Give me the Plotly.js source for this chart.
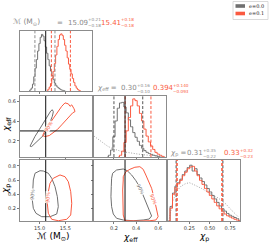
<!DOCTYPE html>
<html><head><meta charset="utf-8">
<script src="https://cdn.plot.ly/plotly-3.0.1.min.js"></script>
<style>html,body{margin:0;padding:0;background:#fff;}#plot{width:269px;height:244px;}</style>
</head><body><div id="plot"></div>
<script>
// ---------------- DATA ----------------
const seriesNames = ['e=0.0', 'e=0.1'];
// chirp mass histograms (normalised)
const mGrayX = [14.800,14.825,14.850,14.875,14.900,14.925,14.950,14.975,15.000,15.025,15.050,15.075,15.100,15.125,15.150,15.175,15.200,15.225,15.250,15.275,15.300,15.325,15.350,15.375,15.400,15.425,15.450,15.475,15.500];
const mGrayY = [0,0.02,0.05,0.12,0.25,0.40,0.55,0.70,0.83,0.94,0.99,0.96,0.88,0.77,0.66,0.55,0.44,0.35,0.27,0.20,0.14,0.10,0.07,0.05,0.035,0.02,0.012,0.006,0];
const mRedX = [15.150,15.175,15.200,15.225,15.250,15.275,15.300,15.325,15.350,15.375,15.400,15.425,15.450,15.475,15.500,15.525,15.550,15.575,15.600,15.625,15.650,15.675,15.700,15.725,15.750,15.775,15.800];
const mRedY = [0,0.03,0.07,0.13,0.22,0.34,0.48,0.63,0.78,0.90,0.98,1.0,0.97,0.90,0.80,0.70,0.58,0.47,0.38,0.30,0.22,0.15,0.09,0.05,0.025,0.01,0];
// chi_eff histograms
const ceGrayX = [0.14,0.16,0.18,0.20,0.22,0.24,0.26,0.28,0.30,0.32,0.34,0.36,0.38,0.40,0.42,0.44,0.46,0.48,0.50,0.52,0.54,0.56,0.58,0.60,0.62];
const ceGrayY = [0,0.03,0.12,0.35,0.62,0.84,0.93,0.94,0.86,0.76,0.64,0.52,0.42,0.34,0.27,0.20,0.15,0.11,0.08,0.06,0.045,0.03,0.02,0.01,0];
const ceRedX = [0.24,0.26,0.28,0.30,0.32,0.34,0.36,0.38,0.40,0.42,0.44,0.46,0.48,0.50,0.52,0.54,0.56,0.58,0.60,0.62,0.64,0.66];
const ceRedY = [0,0.03,0.10,0.25,0.45,0.68,0.88,1.0,0.97,0.88,0.75,0.62,0.48,0.36,0.26,0.19,0.13,0.08,0.05,0.03,0.01,0];
const cePriorX = [0.02,0.06,0.10,0.14,0.18,0.22,0.26,0.30,0.34,0.38,0.42,0.46,0.50,0.54,0.58,0.62,0.66];
const cePriorY = [0.36,0.30,0.24,0.19,0.15,0.12,0.10,0.085,0.07,0.06,0.05,0.04,0.03,0.025,0.02,0.015,0.01];
// chi_p histograms
const cpX = [0.00,0.03,0.06,0.09,0.12,0.15,0.18,0.21,0.24,0.27,0.30,0.33,0.36,0.39,0.42,0.45,0.48,0.51,0.54,0.57,0.60,0.63,0.66,0.69,0.72,0.75,0.78,0.81,0.84,0.87];
const cpGrayY = [0,0.25,0.48,0.60,0.66,0.72,0.80,0.86,0.92,0.96,0.86,0.90,0.80,0.74,0.68,0.62,0.56,0.50,0.44,0.38,0.32,0.26,0.21,0.17,0.13,0.10,0.08,0.06,0.04,0];
const cpRedY = [0,0.22,0.46,0.58,0.64,0.70,0.78,0.84,0.90,0.93,0.94,0.86,0.78,0.70,0.63,0.56,0.50,0.44,0.38,0.32,0.26,0.21,0.16,0.12,0.09,0.07,0.05,0.03,0.015,0];
const cpPriorX = [0,0.05,0.10,0.15,0.20,0.25,0.30,0.35,0.40,0.45,0.50,0.55,0.60,0.65,0.70,0.75,0.80,0.85];
const cpPriorY = [0,0.35,0.52,0.60,0.64,0.66,0.63,0.60,0.56,0.52,0.47,0.43,0.40,0.35,0.29,0.21,0.14,0.07];
// 90% contours
const c21GrayM  = [14.815,14.848,14.912,14.995,15.073,15.151,15.217,15.248,15.268,15.248,15.204,15.171,15.139,15.073,14.995,14.912,14.848,14.815];
const c21GrayCe = [0.145,0.185,0.245,0.313,0.381,0.448,0.502,0.515,0.495,0.448,0.394,0.347,0.303,0.253,0.212,0.169,0.142,0.145];
const c21RedM   = [15.061,15.106,15.171,15.237,15.301,15.365,15.431,15.495,15.560,15.593,15.626,15.671,15.690,15.645,15.560,15.495,15.431,15.346,15.268,15.190,15.106,15.061];
const c21RedCe  = [0.253,0.304,0.355,0.405,0.456,0.507,0.550,0.585,0.575,0.550,0.565,0.525,0.497,0.484,0.439,0.405,0.362,0.314,0.280,0.253,0.243,0.253];
const c31GrayM  = [15.009,14.912,14.879,14.867,14.859,14.879,14.931,15.042,15.204,15.334,15.365,15.346,15.301,15.237,15.171,15.073,15.009];
const c31GrayCp = [0.733,0.697,0.602,0.460,0.318,0.200,0.129,0.081,0.081,0.119,0.223,0.365,0.507,0.626,0.697,0.729,0.733];
const c31RedM   = [15.398,15.268,15.204,15.171,15.151,15.171,15.237,15.365,15.528,15.606,15.626,15.606,15.560,15.495,15.398];
const c31RedCp  = [0.673,0.626,0.555,0.436,0.271,0.129,0.044,0.024,0.044,0.105,0.271,0.436,0.577,0.648,0.673];
const c32GrayCe = [0.188,0.224,0.284,0.320,0.360,0.398,0.434,0.464,0.495,0.525,0.540,0.518,0.464,0.374,0.284,0.224,0.194,0.179,0.173,0.176,0.179,0.188];
const c32GrayCp = [0.697,0.743,0.758,0.733,0.672,0.592,0.498,0.389,0.271,0.166,0.091,0.048,0.034,0.024,0.034,0.058,0.119,0.223,0.365,0.507,0.626,0.697];
const c32RedCe  = [0.284,0.308,0.344,0.389,0.434,0.464,0.488,0.518,0.540,0.560,0.579,0.594,0.599,0.579,0.525,0.434,0.344,0.299,0.284,0.279,0.279,0.284,0.284];
const c32RedCp  = [0.648,0.719,0.753,0.782,0.790,0.753,0.672,0.577,0.484,0.365,0.247,0.152,0.081,0.034,0.024,0.020,0.020,0.024,0.105,0.271,0.460,0.602,0.648];
// injected values and quantiles
const injM = 15.12, injCe = 0.30;
const qM = {gray:[14.91,15.30], red:[15.23,15.60]};
const qCe = {gray:[0.20,0.46], red:[0.301,0.534]};
const qCp = {gray:[0.09,0.66], red:[0.10,0.65]};
// title values
const titleM  = {gray:['15.09','+0.21','−0.18'], red:['15.41','+0.18','−0.18']};
const titleCe = {gray:['0.30','+0.16','−0.10'], red:['0.394','+0.140','−0.093']};
const titleCp = {gray:['0.31','+0.35','−0.22'], red:['0.33','+0.32','−0.23']};
const ticksM = [15.0, 15.5], ticksMText = ['15.0','15.5'];
const ticksCe = [0.2, 0.4, 0.6], ticksCeText = ['0.2','0.4','0.6'];
const ticksCpX = [0.25, 0.50, 0.75], ticksCpXText = ['0.25','0.50','0.75'];
const ticksCpY = [0.2, 0.4, 0.6, 0.8], ticksCpYText = ['0.2','0.4','0.6','0.8'];

// ---------------- LAYOUT ----------------
const W = 269, H = 244;
const GRAY = '#707070', RED = '#fa5a40', TGRAY = '#8a8a8a';
const FONT = 'DejaVu Sans, sans-serif';
const X = p => p / W, Y = p => 1 - p / H;
const cols = [[20,92],[94,166],[168,240]];
const rows = [[31,91],[96,157],[160,221]];
const dx = c => [X(cols[c][0]), X(cols[c][1])];
const dy = r => [Y(rows[r][1]), Y(rows[r][0])];
const rM = [14.62, 16.02], rCe = [0.02, 0.67], rCeY = [0.035, 0.655], rCpX = [-0.01, 0.87], rCpY = [0.02, 0.885], rH = [0, 1.05];

function ax(domain, range, anchor, tv, tt, labels, ticks) {
  return {domain, range, anchor, showline:true, mirror:true, linecolor:'#8c8c8c', linewidth:1,
    showgrid:false, zeroline:false, ticks: ticks ? 'outside' : '', ticklen:2, tickwidth:0.7, tickcolor:'#444',
    tickvals: tv, ticktext: tt, showticklabels: labels, tickfont:{size:5, color:'#333', family:FONT}, fixedrange:true};
}
const layout = {
  width:W, height:H, margin:{l:0,r:0,t:0,b:0}, paper_bgcolor:'#fff', plot_bgcolor:'#fff', showlegend:false,
  xaxis:  ax(dx(0), rM,  'y',  ticksM, ticksMText, false, true),
  yaxis:  ax(dy(0), rH,  'x',  [], [], false, false),
  xaxis2: ax(dx(0), rM,  'y2', ticksM, ticksMText, false, true),
  yaxis2: ax(dy(1), rCeY,'x2', ticksCe, ticksCeText, true, true),
  xaxis3: ax(dx(1), rCe, 'y3', ticksCe, ticksCeText, false, true),
  yaxis3: ax(dy(1), rH,  'x3', [], [], false, false),
  xaxis4: ax(dx(0), rM,  'y4', ticksM, ticksMText, true, true),
  yaxis4: ax(dy(2), rCpY,'x4', ticksCpY, ticksCpYText, true, true),
  xaxis5: ax(dx(1), rCe, 'y5', ticksCe, ticksCeText, true, true),
  yaxis5: ax(dy(2), rCpY,'x5', ticksCpY, ticksCpYText, false, true),
  xaxis6: ax(dx(2), rCpX,'y6', ticksCpX, ticksCpXText, true, true),
  yaxis6: ax(dy(2), rH,  'x6', [], [], false, false),
  shapes: [], annotations: []
};

// ---------------- TRACES ----------------
const traces = [];
function hist(x, y, xa, ya, color) {
  traces.push({type:'scatter', mode:'lines', x, y, xaxis:xa, yaxis:ya, line:{color, width:1, shape:'hvh'}, hoverinfo:'skip'});
}
function dotted(x, y, xa, ya) {
  traces.push({type:'scatter', mode:'lines', x, y, xaxis:xa, yaxis:ya, line:{color:'#9a9a9a', width:0.9, dash:'1px,1.6px'}, hoverinfo:'skip'});
}
function contour(x, y, xa, ya, color) {
  traces.push({type:'scatter', mode:'lines', x, y, xaxis:xa, yaxis:ya, line:{color, width:1}, hoverinfo:'skip'});
}
hist(mGrayX, mGrayY, 'x', 'y', GRAY);
hist(mRedX, mRedY, 'x', 'y', RED);
dotted(cePriorX, cePriorY, 'x3', 'y3');
hist(ceGrayX, ceGrayY, 'x3', 'y3', GRAY);
hist(ceRedX, ceRedY, 'x3', 'y3', RED);
dotted(cpPriorX, cpPriorY, 'x6', 'y6');
hist(cpX, cpGrayY, 'x6', 'y6', GRAY);
hist(cpX, cpRedY, 'x6', 'y6', RED);
contour(c21GrayM, c21GrayCe, 'x2', 'y2', GRAY);
contour(c21RedM, c21RedCe, 'x2', 'y2', RED);
contour(c31GrayM, c31GrayCp, 'x4', 'y4', GRAY);
contour(c31RedM, c31RedCp, 'x4', 'y4', RED);
contour(c32GrayCe, c32GrayCp, 'x5', 'y5', GRAY);
contour(c32RedCe, c32RedCp, 'x5', 'y5', RED);

// ---------------- SHAPES ----------------
function vline(xref, yref, x, color, dash, width) {
  layout.shapes.push({type:'line', xref, yref: yref + ' domain', x0:x, x1:x, y0:0, y1:1, line:{color, width, dash}});
}
function hline(xref, yref, y, color) {
  layout.shapes.push({type:'line', xref: xref + ' domain', yref, x0:0, x1:1, y0:y, y1:y, line:{color, width:1}});
}
const DASH = '3px,1.8px';
qM.gray.forEach(v => vline('x', 'y', v, '#8f8f8f', DASH, 1));
qM.red.forEach(v => vline('x', 'y', v, RED, DASH, 1));
qCe.gray.forEach(v => vline('x3', 'y3', v, '#555', DASH, 1));
qCe.red.forEach(v => vline('x3', 'y3', v, RED, DASH, 1));
qCp.gray.forEach(v => vline('x6', 'y6', v, '#8f8f8f', DASH, 1.6));
qCp.red.forEach(v => vline('x6', 'y6', v, RED, '3px,2px', 1.6));
vline('x', 'y', injM, '#111', '', 1);
vline('x2', 'y2', injM, '#111', '', 1);
hline('x2', 'y2', injCe, '#111');
vline('x4', 'y4', injM, '#111', '', 1);
vline('x3', 'y3', injCe, '#111', '', 1);
vline('x5', 'y5', injCe, '#111', '', 1);

// ---------------- TEXT ----------------
function ann(text, xpx, ypx, opts) {
  layout.annotations.push(Object.assign({text, xref:'paper', yref:'paper', x:X(xpx), y:Y(ypx),
    xanchor:'left', yanchor:'middle', showarrow:false, borderpad:0,
    font:{family:FONT, size:7, color:TGRAY}}, opts || {}));
}
const SS = 4.2;
function valueTitle(vals, xv, xs, ymain, color) {
  ann(vals[0], xv, ymain, {font:{family:FONT, size:7, color}});
  ann(vals[1], xs, ymain - 2.7, {font:{family:FONT, size:SS, color}});
  ann(vals[2], xs, ymain + 2.9, {font:{family:FONT, size:SS, color}});
}
// row titles
ann('<i>ℳ</i> (M<sub>⊙</sub>)', 12, 22.5, {font:{family:FONT, size:7.5, color:TGRAY}});
ann('=', 60, 22.7, {xanchor:'center'});
valueTitle(titleM.gray, 67, 87, 22.7, TGRAY);
valueTitle(titleM.red, 100, 120, 22.7, RED);
ann('<i>χ</i><sub>eff</sub> =', 96, 88);
valueTitle(titleCe.gray, 120, 136, 88.3, TGRAY);
valueTitle(titleCe.red, 152, 172, 88.3, RED);
ann('<i>χ</i><sub>p</sub> =', 169, 153);
valueTitle(titleCp.gray, 186, 201.5, 153.3, TGRAY);
valueTitle(titleCp.red, 223, 238.5, 153.3, RED);
// axis labels
const LF = {family:FONT, size:9, color:'#000'};
ann('<i>ℳ</i> (M<sub>⊙</sub>)', 53, 236.5, {xanchor:'center', font:LF});
ann('<i>χ</i><sub>eff</sub>', 130, 237, {xanchor:'center', font:LF});
ann('<i>χ</i><sub>p</sub>', 204, 237, {xanchor:'center', font:LF});
ann('<i>χ</i><sub>eff</sub>', 7, 125, {xanchor:'center', textangle:-90, font:LF});
ann('<i>χ</i><sub>p</sub>', 6, 189, {xanchor:'center', textangle:-90, font:LF});
// contour labels
function clab(xref, yref, x, y, color, angle) {
  layout.annotations.push({text:'90%', xref, yref, x, y, showarrow:false, textangle:angle, borderpad:0,
    bgcolor:'rgba(255,255,255,0.9)', font:{family:FONT, size:4.8, color}});
}
clab('x2', 'y2', 15.19, 0.34, RED, -58);
clab('x4', 'y4', 14.875, 0.39, GRAY, -85);
clab('x4', 'y4', 15.16, 0.36, RED, -85);
clab('x5', 'y5', 0.44, 0.47, GRAY, 65);
clab('x5', 'y5', 0.556, 0.33, RED, 68);
// legend (drawn from seriesNames)
layout.shapes.push({type:'rect', xref:'paper', yref:'paper', x0:X(233), x1:X(268), y0:Y(19.5), y1:Y(1.5), line:{color:'#d0d0d0', width:0.8}, fillcolor:'#fff'});
[GRAY, RED].forEach((c, i) => {
  const yc = 6 + i * 7.5;
  layout.shapes.push({type:'rect', xref:'paper', yref:'paper', x0:X(235.5), x1:X(245), y0:Y(yc + 1.8), y1:Y(yc - 1.8), line:{width:0}, fillcolor:c});
  ann(seriesNames[i], 248, yc, {font:{family:'DejaVu Serif, serif', size:5, color:'#222'}});
});

Plotly.newPlot('plot', traces, layout, {staticPlot:true, displayModeBar:false});
</script></body></html>
